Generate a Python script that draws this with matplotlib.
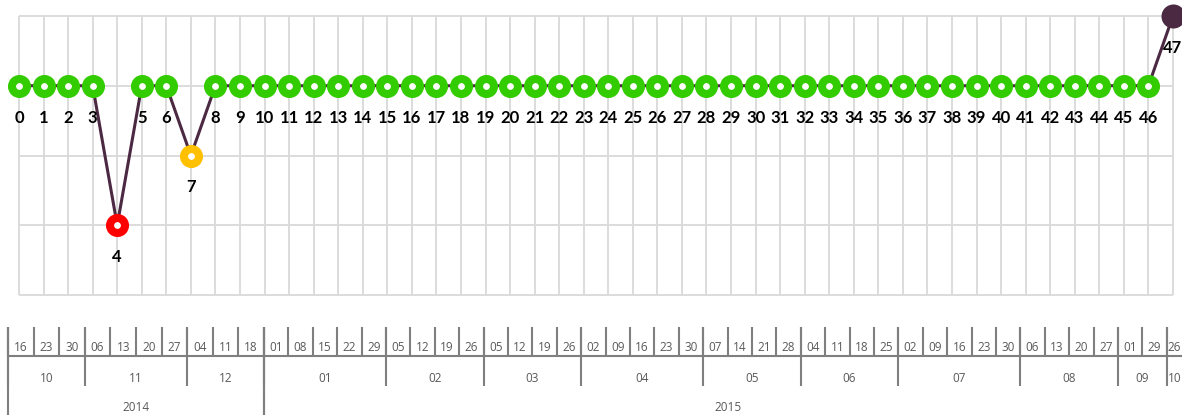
import matplotlib
matplotlib.use('Agg')
import matplotlib.pyplot as plt

# chart values: one point per week, status level 1..4
levels = [3, 3, 3, 3, 1, 3, 3, 2] + [3] * 39 + [4]
status = ['ok', 'ok', 'ok', 'ok', 'bad', 'ok', 'ok', 'warn'] + ['ok'] * 39 + ['end']
point_labels = [str(i) for i in range(len(levels))]

# date table below the chart
weeks_2014 = ['16', '23', '30', '06', '13', '20', '27', '04', '11', '18']
months_2014 = [('10', 3), ('11', 4), ('12', 3)]
weeks_2015 = ['01', '08', '15', '22', '29', '05', '12', '19', '26',
              '05', '12', '19', '26', '02', '09', '16', '23', '30',
              '07', '14', '21', '28', '04', '11', '18', '25',
              '02', '09', '16', '23', '30', '06', '13', '20', '27',
              '01', '29', '26']
months_2015 = [('01', 5), ('02', 4), ('03', 4), ('04', 5), ('05', 4),
               ('06', 4), ('07', 5), ('08', 4), ('09', 2), ('10', 1)]

W, H = 1182, 415
GRID = '#d9d9d9'
LINE = '#4b2942'
COLORS = {'ok': '#33cc00', 'bad': '#ff0000', 'warn': '#ffc000', 'end': LINE}

fig = plt.figure(figsize=(W / 100, H / 100), dpi=100)

# main chart
n = len(levels)
ax = fig.add_axes([19 / W, 1 - 295 / H, 1154 / W, 279 / H])
ax.set_xlim(0, n - 1)
ax.set_ylim(0, 4)
ax.axis('off')
ax.vlines(range(n), 0, 4, colors=GRID, lw=1.3, clip_on=False, zorder=0)
ax.hlines(range(5), 0, n - 1, colors=GRID, lw=1.3, clip_on=False, zorder=0)

xs = list(range(n))
ax.plot(xs, levels, color=LINE, lw=2.2, zorder=2, clip_on=False)

for key, col in COLORS.items():
    px = [x for x, s in zip(xs, status) if s == key]
    py = [y for y, s in zip(levels, status) if s == key]
    if key == 'end':
        ax.plot(px, py, 'o', ms=17.3, mfc=col, mec=col, mew=0, zorder=3, clip_on=False)
    else:
        ax.plot(px, py, 'o', ms=10.8, mfc='white', mec=col, mew=5.8, zorder=3, clip_on=False)

for x, y, lab in zip(xs, levels, point_labels):
    ax.annotate(lab, (x, y), xytext=(0, -23), textcoords='offset points',
                ha='center', va='center', fontsize=12, fontweight='bold',
                family='Lato', color='black', annotation_clip=False)

# multi-level date axis
TAB = '#7f7f7f'
TXT = '#595959'


def draw_year(left_px, cell_px, weeks, months, year):
    nw = len(weeks)
    tx = fig.add_axes([left_px / W, 0, nw * cell_px / W, 88 / H])
    tx.set_xlim(0, nw)
    tx.set_ylim(0, 3)
    tx.axis('off')
    # visible part of this block (the figure edge may cut it off)
    vis = min(nw, (W - left_px) / cell_px)

    def mid(a, b):
        return (a + min(b, vis)) / 2

    kw = dict(color=TAB, lw=1.5, clip_on=False, solid_capstyle='butt')
    tx.plot([0, nw], [2, 2], **kw)
    for i, w in enumerate(weeks):
        tx.plot([i, i], [2, 3], **kw)
        tx.text(mid(i, i + 1), 2.3, w, ha='center', va='center', fontsize=8.5,
                family='Open Sans', color=TXT)
    start = 0
    for m, cnt in months:
        tx.plot([start, start], [1, 3], **kw)
        tx.text(mid(start, start + cnt), 1.23, m, ha='center', va='center',
                fontsize=8.5, family='Open Sans', color=TXT)
        start += cnt
    tx.plot([0, 0], [0, 3], **kw)
    tx.plot([nw, nw], [0, 3], **kw)
    tx.text(nw / 2, 0.24, year, ha='center', va='center', fontsize=8.5,
            family='Open Sans', color=TXT)


draw_year(8, 25.6, weeks_2014, months_2014, '2014')
draw_year(264, 24.4, weeks_2015, months_2015, '2015')

fig.savefig('out.png', dpi=100)
